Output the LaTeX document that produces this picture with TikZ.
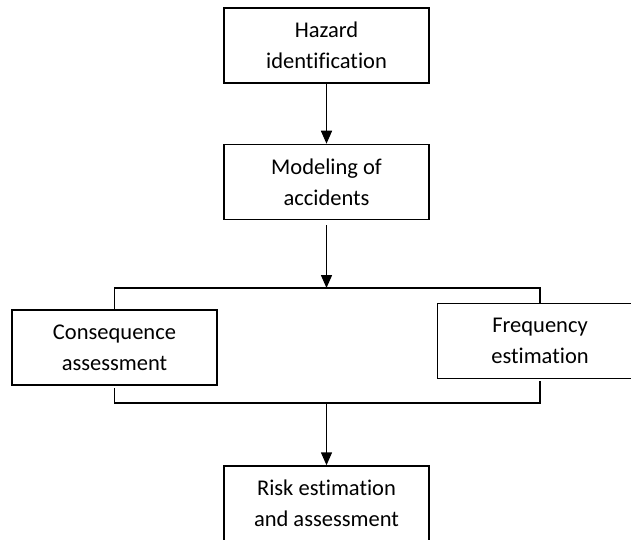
\documentclass[tikz,border=0pt]{standalone}
\usepackage{fontspec}
\setmainfont{Carlito}[Ligatures=NoCommon]
\usetikzlibrary{arrows.meta}
\begin{document}
\begin{tikzpicture}%
	[x=1pt,y=-1pt,
	stepbox/.style={draw=black, line width=1.5pt, minimum width=205pt, minimum height=75pt,
		inner sep=0pt, align=center, font=\fontsize{22.5}{31}\selectfont},
	link/.style={color=black, line width=1.5pt},
	arrow/.style={link, -{Triangle[length=13pt,width=11pt]}}]
	\useasboundingbox (0,0) rectangle (631,540);
	\node[stepbox] (hazard) at (326.5,45.5)  {Hazard\\identification};
	\node[stepbox] (model)  at (326.5,182)   {Modeling of\\accidents};
	\node[stepbox] (conseq) at (114.5,347.5) {Consequence\\assessment};
	\node[stepbox] (freq)   at (540,341)     {Frequency\\estimation};
	\node[stepbox] (risk)   at (326.5,503.5) {Risk estimation\\and assessment};

	%branch points
	\coordinate (split) at (326.5,288);
	\coordinate (merge) at (326.5,403);

	\draw[arrow] (hazard.south) -- (model.north);
	\draw[arrow] ([yshift=-5pt]model.south) -- (split);
	\draw[link] (conseq.north) |- (split) -| (freq.north);
	\draw[link] ([yshift=-2pt]conseq.south) |- (merge) -| ([yshift=-2pt]freq.south);
	\draw[arrow] (merge) -- (risk.north);
\end{tikzpicture}
\end{document}
